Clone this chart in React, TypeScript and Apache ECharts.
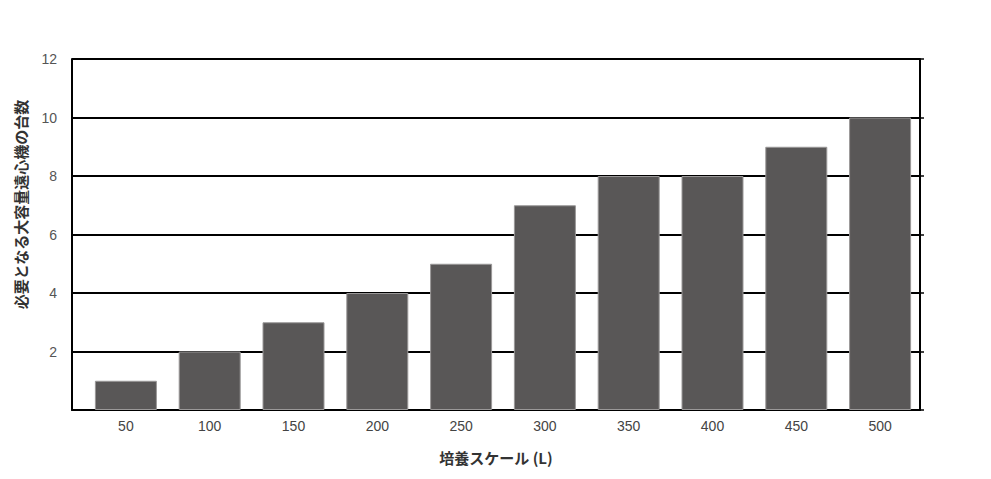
import { useEffect, useRef } from "react";
import * as echarts from "echarts";

const categories = ["50", "100", "150", "200", "250", "300", "350", "400", "450", "500"];
const counts = [1, 2, 3, 4, 5, 7, 8, 8, 9, 10];
const yTicks = { min: 0, max: 12, interval: 2 };

const xTitle = "培養スケール (L)";
const yTitle = "必要となる大容量遠心機の台数";

export default function App() {
  const chartRef = useRef<HTMLDivElement>(null);

  useEffect(() => {
    if (!chartRef.current) return;
    const chart = echarts.init(chartRef.current, undefined, { renderer: "svg" });

    const blackLine = { color: "#000", width: 2 };

    const option: echarts.EChartsOption = {
      animation: false,
      backgroundColor: "#fff",
      // grid 0: frame, gridlines, titles; grid 1: bars (categories sit a bit right of the frame)
      grid: [
        { left: 72, right: 71, top: 59, bottom: 69 },
        { left: 84, right: 69, top: 59, bottom: 69 },
      ],
      xAxis: [
        {
          type: "value",
          gridIndex: 0,
          min: 0,
          max: 1,
          axisLine: { show: true, lineStyle: blackLine },
          axisTick: { show: false },
          axisLabel: { show: false },
          splitLine: { show: false },
          name: xTitle,
          nameLocation: "middle",
          nameGap: 40,
          nameTextStyle: {
            fontSize: 15,
            fontWeight: "bold",
            color: "#333",
            fontFamily: "Noto Sans CJK JP",
          },
        },
        {
          type: "category",
          gridIndex: 1,
          data: categories,
          axisLine: { show: false },
          axisTick: { show: false },
          axisLabel: {
            margin: 9,
            fontSize: 14,
            color: "#444",
            fontFamily: "Liberation Sans",
          },
        },
      ],
      yAxis: [
        {
          type: "value",
          gridIndex: 0,
          min: yTicks.min,
          max: yTicks.max,
          interval: yTicks.interval,
          axisLine: { show: true, lineStyle: blackLine },
          axisTick: { show: false },
          splitLine: { show: true, lineStyle: blackLine },
          axisLabel: {
            margin: 15,
            fontSize: 14,
            color: "#555",
            fontFamily: "Liberation Sans",
            verticalAlign: "middle",
            padding: [0, 0, 8, 0],
            formatter: (v: number) => (v === 0 ? "" : String(v)),
          },
          name: yTitle,
          nameLocation: "middle",
          nameGap: 44,
          nameTextStyle: {
            fontSize: 15,
            fontWeight: "bold",
            color: "#333",
            fontFamily: "Noto Sans CJK JP",
            padding: [0, 0, 0, 60],
          },
        },
        {
          type: "value",
          gridIndex: 0,
          position: "right",
          min: yTicks.min,
          max: yTicks.max,
          interval: yTicks.interval,
          axisLine: { show: true, lineStyle: blackLine },
          axisTick: { show: true, inside: false, length: 4, lineStyle: { color: "#000", width: 1.5 } },
          axisLabel: { show: false },
          splitLine: { show: false },
        },
        {
          type: "value",
          gridIndex: 1,
          min: yTicks.min,
          max: yTicks.max,
          interval: yTicks.interval,
          show: false,
        },
      ],
      series: [
        {
          type: "bar",
          data: counts,
          xAxisIndex: 1,
          yAxisIndex: 2,
          barWidth: 62,
          itemStyle: {
            color: "#595757",
            borderColor: "#9a9898",
            borderWidth: 1,
          },
        },
      ],
    };

    chart.setOption(option);
    return () => {
      chart.dispose();
    };
  }, []);

  return (
    <div
      ref={chartRef}
      style={{ position: "fixed", left: 0, top: 0, width: 991, height: 479 }}
    />
  );
}
